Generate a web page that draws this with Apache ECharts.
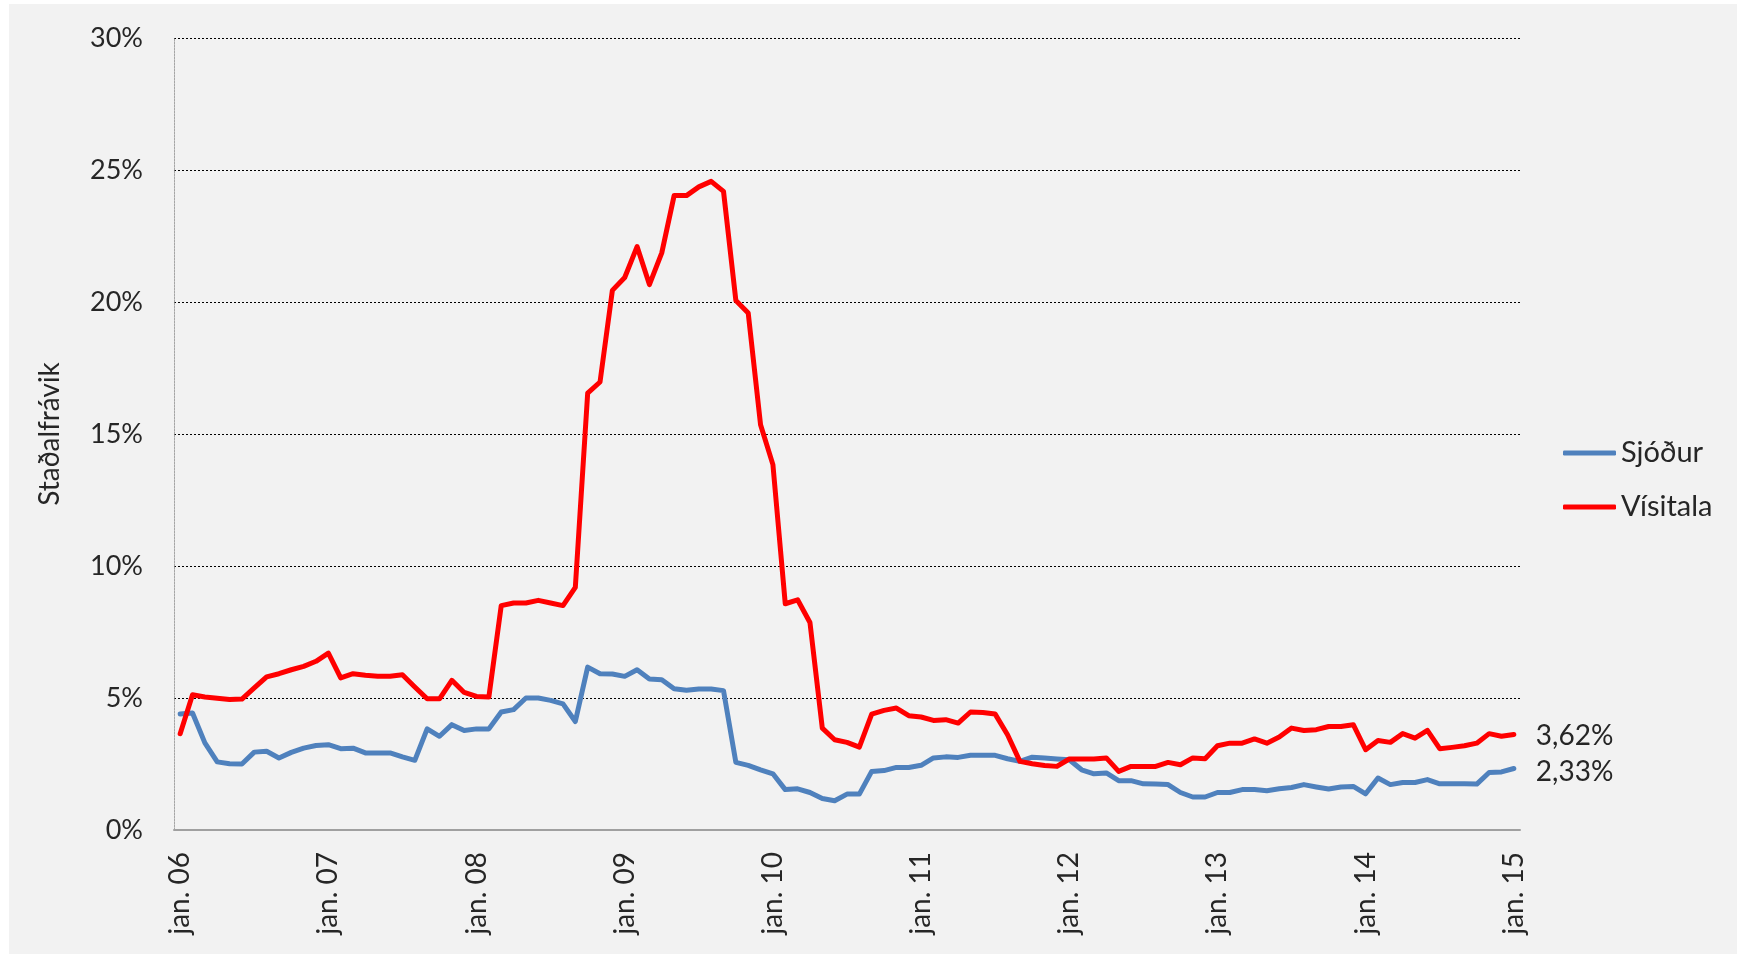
<!DOCTYPE html>
<html>
<head>
<meta charset="utf-8">
<script src="https://cdn.jsdelivr.net/npm/echarts@6/dist/echarts.min.js"></script>
<style>
  html, body { margin: 0; padding: 0; background: #ffffff; }
  #panel { position: absolute; left: 9px; top: 4px; right: 0; bottom: 0; background: #F2F2F2; }
  #chart { position: absolute; left: 0; top: 0; width: 1737px; height: 954px; }
</style>
</head>
<body>
<div id="panel"></div>
<div id="chart"></div>
<script>
  // mánuðir jan. 06 - jan. 15
  var monthNames = ['jan.', 'feb.', 'mar.', 'apr.', 'maí.', 'jún.', 'júl.', 'ágú.', 'sep.', 'okt.', 'nóv.', 'des.'];
  var years = ['06', '07', '08', '09', '10', '11', '12', '13', '14', '15'];
  var tickLabels = ['jan. 06', 'jan. 07', 'jan. 08', 'jan. 09', 'jan. 10', 'jan. 11', 'jan. 12', 'jan. 13', 'jan. 14', 'jan. 15'];
  var yTicks = [0, 5, 10, 15, 20, 25, 30];

  var months = [];
  years.forEach(function (y, i) {
    monthNames.forEach(function (m, j) {
      if (i < years.length - 1 || j === 0) months.push(m + ' ' + y);
    });
  });

  // staðalfrávik sjóðs (%)
  var sjodur = [
    4.39, 4.43, 3.30, 2.58, 2.51, 2.50, 2.95, 2.98, 2.73, 2.94, 3.10, 3.20,
    3.23, 3.08, 3.10, 2.92, 2.92, 2.92, 2.77, 2.64, 3.83, 3.55, 3.99, 3.77,
    3.83, 3.83, 4.47, 4.56, 5.00, 5.00, 4.91, 4.78, 4.11, 6.17, 5.92, 5.91,
    5.82, 6.07, 5.72, 5.69, 5.35, 5.29, 5.34, 5.34, 5.28, 2.56, 2.45, 2.28,
    2.13, 1.53, 1.56, 1.42, 1.19, 1.11, 1.36, 1.36, 2.22, 2.25, 2.37, 2.37,
    2.45, 2.73, 2.77, 2.75, 2.83, 2.83, 2.83, 2.70, 2.60, 2.76, 2.73, 2.69,
    2.66, 2.28, 2.13, 2.16, 1.87, 1.87, 1.75, 1.74, 1.72, 1.42, 1.25, 1.25,
    1.42, 1.42, 1.53, 1.53, 1.49, 1.56, 1.61, 1.72, 1.63, 1.55, 1.63, 1.65,
    1.37, 1.97, 1.72, 1.80, 1.80, 1.91, 1.75, 1.75, 1.75, 1.74, 2.18, 2.20,
    2.33
  ];

  // staðalfrávik vísitölu (%)
  var visitala = [
    3.65, 5.12, 5.04, 4.99, 4.94, 4.96, 5.38, 5.80, 5.92, 6.07, 6.20, 6.39,
    6.70, 5.76, 5.92, 5.86, 5.82, 5.82, 5.88, 5.42, 4.97, 4.97, 5.67, 5.21,
    5.06, 5.04, 8.50, 8.60, 8.60, 8.70, 8.60, 8.50, 9.19, 16.55, 16.97, 20.44,
    20.93, 22.10, 20.66, 21.86, 24.03, 24.03, 24.36, 24.57, 24.19, 20.06, 19.58, 15.35,
    13.84, 8.57, 8.72, 7.86, 3.86, 3.42, 3.32, 3.14, 4.39, 4.53, 4.62, 4.33,
    4.28, 4.15, 4.18, 4.05, 4.47, 4.45, 4.39, 3.61, 2.60, 2.51, 2.44, 2.41,
    2.69, 2.69, 2.69, 2.73, 2.22, 2.41, 2.41, 2.41, 2.56, 2.47, 2.73, 2.70,
    3.19, 3.29, 3.29, 3.45, 3.29, 3.52, 3.86, 3.77, 3.80, 3.92, 3.92, 3.99,
    3.04, 3.39, 3.32, 3.65, 3.48, 3.77, 3.08, 3.13, 3.19, 3.29, 3.65, 3.55,
    3.62
  ];

  var FONT = 'Lato';
  var TXT = '#262626';

  function pct(v) {
    return v.toFixed(2).replace('.', ',') + '%';
  }

  var myChart = echarts.init(document.getElementById('chart'), null, { renderer: 'canvas' });

  var option = {
    animation: false,
    backgroundColor: 'transparent',
    grid: { left: 174, right: 217, top: 38, bottom: 124, containLabel: false },
    legend: {
      orient: 'vertical',
      left: 1558,
      top: 431,
      itemWidth: 53,
      itemHeight: 5,
      itemGap: 20,
      icon: 'roundRect',
      textStyle: { fontFamily: FONT, fontSize: 29, color: TXT, lineHeight: 34 },
      data: ['Sjóður', 'Vísitala']
    },
    xAxis: {
      type: 'category',
      data: months,
      boundaryGap: true,
      axisLine: { show: true, lineStyle: { color: '#A0A0A0', width: 2 } },
      axisTick: { show: false },
      axisLabel: {
        interval: 11,
        rotate: 90,
        margin: 22,
        fontFamily: FONT,
        fontSize: 28,
        color: TXT,
        formatter: function (val, idx) {
          return tickLabels[idx / 12] || '';
        }
      },
      splitLine: { show: false }
    },
    yAxis: {
      type: 'value',
      min: yTicks[0],
      max: yTicks[yTicks.length - 1],
      interval: 5,
      name: 'Staðalfrávik',
      nameLocation: 'middle',
      nameRotate: 90,
      nameGap: 110,
      nameTextStyle: { fontFamily: FONT, fontSize: 28, color: TXT },
      axisLine: { show: true, lineStyle: { color: '#A6A6A6', width: 1, type: [2, 1] } },
      axisTick: { show: false },
      axisLabel: {
        margin: 31,
        fontFamily: FONT,
        fontSize: 27,
        color: TXT,
        formatter: '{value}%'
      },
      splitLine: {
        show: true,
        showMinLine: false,
        lineStyle: { color: '#000000', width: 1, type: [2, 2] }
      }
    },
    series: [
      {
        name: 'Sjóður',
        type: 'line',
        data: sjodur,
        showSymbol: false,
        symbol: 'none',
        color: '#4F81BD',
        lineStyle: { color: '#4F81BD', width: 5, cap: 'round', join: 'round' },
        endLabel: {
          show: true,
          distance: 22,
          offset: [0, 3],
          fontFamily: FONT,
          fontSize: 28,
          color: TXT,
          formatter: function (p) { return pct(p.value); }
        }
      },
      {
        name: 'Vísitala',
        type: 'line',
        data: visitala,
        showSymbol: false,
        symbol: 'none',
        color: '#FF0000',
        lineStyle: { color: '#FF0000', width: 5, cap: 'round', join: 'round' },
        endLabel: {
          show: true,
          distance: 22,
          offset: [0, 2],
          fontFamily: FONT,
          fontSize: 28,
          color: TXT,
          formatter: function (p) { return pct(p.value); }
        }
      }
    ]
  };

  myChart.setOption(option);
</script>
</body>
</html>
